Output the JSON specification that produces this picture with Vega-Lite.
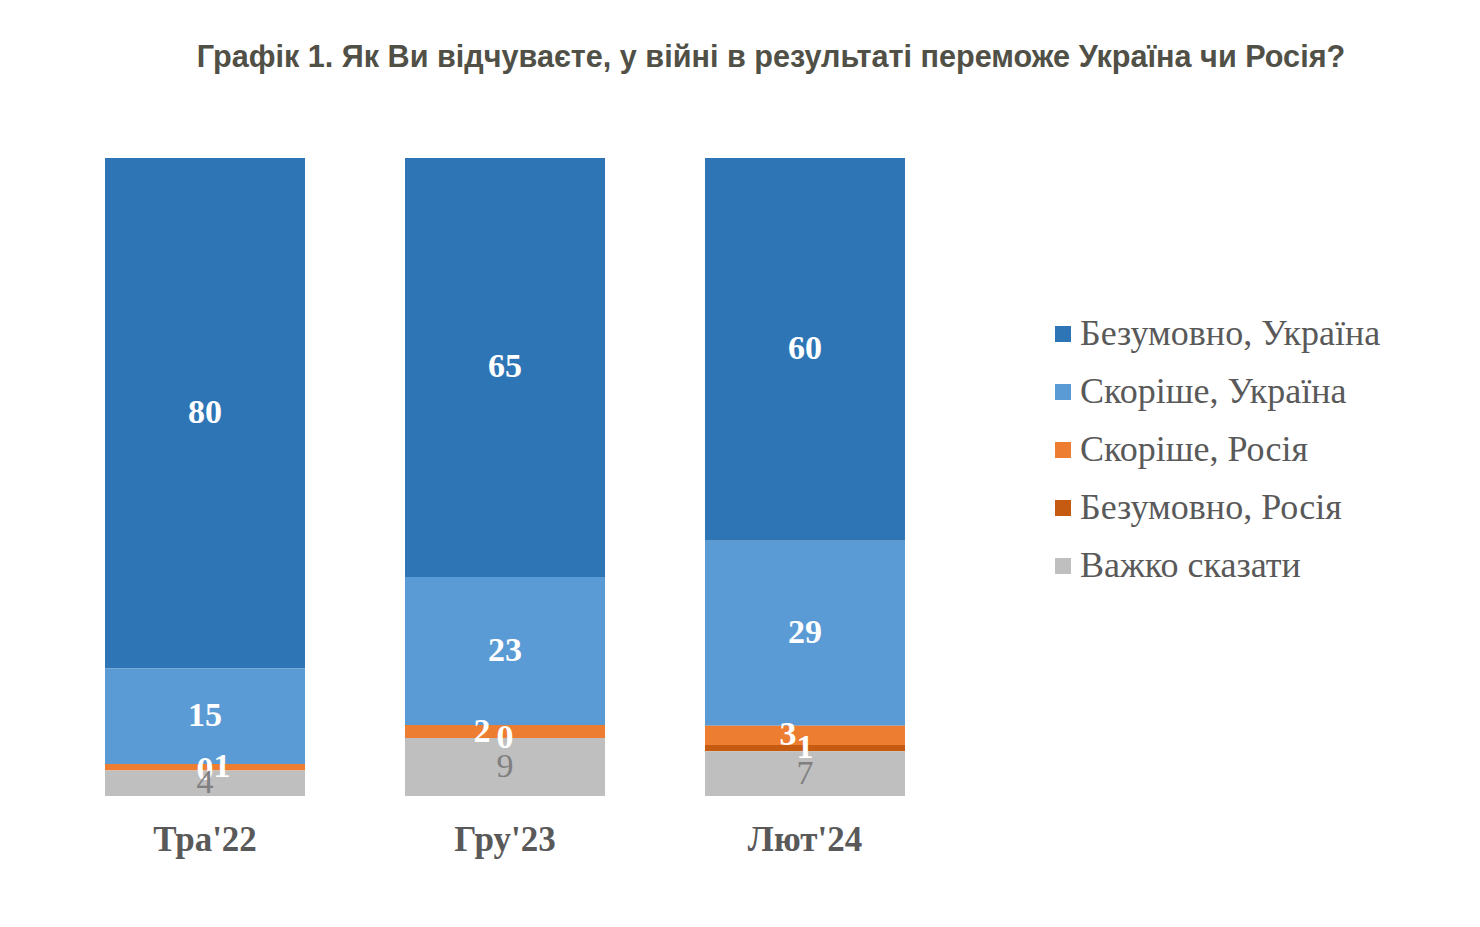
{
  "$schema": "https://vega.github.io/schema/vega-lite/v6.json",
  "autosize": {"type": "none"},
  "width": 900,
  "height": 638,
  "padding": {"left": 55, "top": 158, "right": 525, "bottom": 131},
  "background": "white",
  "title": {
    "text": "Графік 1. Як Ви відчуваєте, у війні в результаті переможе Україна чи Росія?",
    "font": "Liberation Sans",
    "fontSize": 30.6,
    "fontWeight": "bold",
    "color": "#505047",
    "anchor": "middle",
    "dx": 266,
    "offset": 84
  },
  "data": {
    "values": [
      {"period": "Тра'22", "answer": "Безумовно, Україна", "value": 80},
      {"period": "Тра'22", "answer": "Скоріше, Україна", "value": 15},
      {"period": "Тра'22", "answer": "Скоріше, Росія", "value": 1},
      {"period": "Тра'22", "answer": "Безумовно, Росія", "value": 0},
      {"period": "Тра'22", "answer": "Важко сказати", "value": 4},
      {"period": "Гру'23", "answer": "Безумовно, Україна", "value": 65},
      {"period": "Гру'23", "answer": "Скоріше, Україна", "value": 23},
      {"period": "Гру'23", "answer": "Скоріше, Росія", "value": 2},
      {"period": "Гру'23", "answer": "Безумовно, Росія", "value": 0},
      {"period": "Гру'23", "answer": "Важко сказати", "value": 9},
      {"period": "Лют'24", "answer": "Безумовно, Україна", "value": 60},
      {"period": "Лют'24", "answer": "Скоріше, Україна", "value": 29},
      {"period": "Лют'24", "answer": "Скоріше, Росія", "value": 3},
      {"period": "Лют'24", "answer": "Безумовно, Росія", "value": 1},
      {"period": "Лют'24", "answer": "Важко сказати", "value": 7}
    ]
  },
  "transform": [
    {"calculate": "indexof(['Важко сказати','Безумовно, Росія','Скоріше, Росія','Скоріше, Україна','Безумовно, Україна'], datum.answer)", "as": "rank"},
    {"stack": "value", "groupby": ["period"], "sort": [{"field": "rank", "order": "ascending"}], "offset": "normalize", "as": ["y0", "y1"]},
    {"calculate": "(datum.y0 + datum.y1) / 2", "as": "ymid"}
  ],
  "encoding": {
    "x": {
      "field": "period",
      "type": "nominal",
      "sort": ["Тра'22", "Гру'23", "Лют'24"],
      "scale": {"paddingInner": 0.3333, "paddingOuter": 0.1667},
      "axis": {
        "title": null,
        "domain": false,
        "ticks": false,
        "labelAngle": 0,
        "labelFont": "Liberation Serif",
        "labelFontSize": 35,
        "labelFontWeight": "bold",
        "labelColor": "#595959",
        "labelPadding": 26
      }
    }
  },
  "layer": [
    {
      "mark": {"type": "bar"},
      "encoding": {
        "y": {"field": "y0", "type": "quantitative", "scale": {"domain": [0, 1], "nice": false}, "axis": null},
        "y2": {"field": "y1"},
        "color": {
          "field": "answer",
          "type": "nominal",
          "scale": {
            "domain": ["Безумовно, Україна", "Скоріше, Україна", "Скоріше, Росія", "Безумовно, Росія", "Важко сказати"],
            "range": ["#2e75b6", "#5b9bd5", "#ed7d31", "#c55a11", "#bfbfbf"]
          },
          "legend": {
            "title": null,
            "orient": "none",
            "legendX": 990,
            "legendY": 158,
            "symbolType": "square",
            "symbolSize": 256,
            "symbolStrokeWidth": 0,
            "labelFont": "Liberation Serif",
            "labelFontSize": 36,
            "labelColor": "#595959",
            "labelOffset": -1,
            "rowPadding": 22,
            "labelLimit": 500
          }
        }
      }
    },
    {
      "transform": [{"filter": "datum.answer !== 'Важко сказати'"}],
      "mark": {
        "type": "text",
        "font": "Liberation Serif",
        "fontSize": 34,
        "fontWeight": "bold",
        "color": "white",
        "baseline": "middle",
        "dx": {"expr": "datum.answer === 'Скоріше, Росія' ? (datum.period === 'Тра\\'22' ? 17 : (datum.period === 'Гру\\'23' ? -23 : -17)) : 0"}
      },
      "encoding": {
        "y": {"field": "ymid", "type": "quantitative"},
        "text": {"field": "value", "type": "quantitative"}
      }
    },
    {
      "transform": [{"filter": "datum.answer === 'Важко сказати'"}],
      "mark": {
        "type": "text",
        "font": "Liberation Serif",
        "fontSize": 34,
        "color": "#7f7f7f",
        "baseline": "middle"
      },
      "encoding": {
        "y": {"field": "ymid", "type": "quantitative"},
        "text": {"field": "value", "type": "quantitative"}
      }
    }
  ],
  "config": {
    "view": {"stroke": null}
  }
}
